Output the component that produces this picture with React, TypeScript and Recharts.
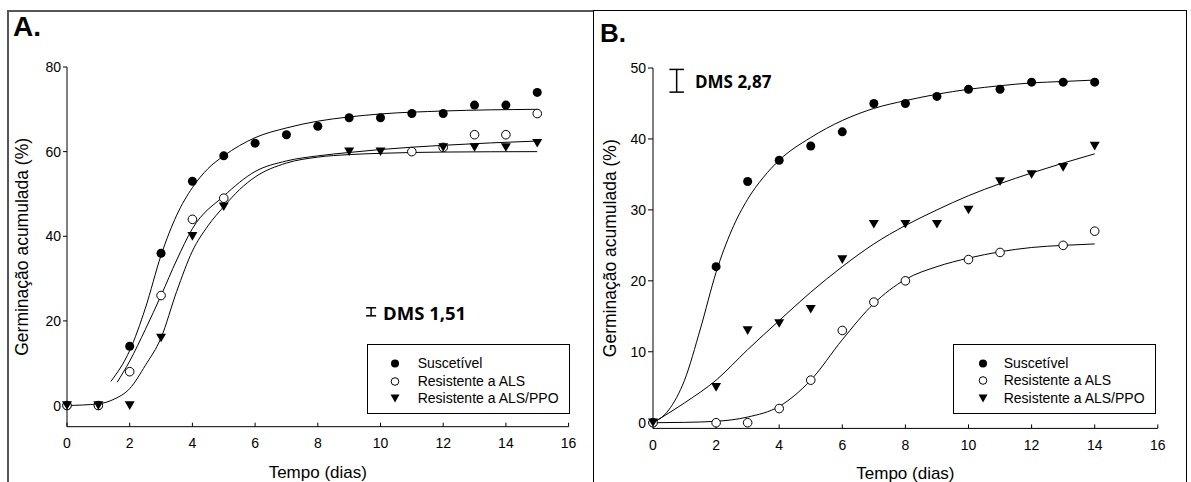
import React from 'react';
import { ComposedChart, Line, Scatter, XAxis, YAxis, ReferenceLine } from 'recharts';

// ---- Painel A: germinação acumulada (%) observada ----
const diasA = [0, 1, 2, 3, 4, 5, 6, 7, 8, 9, 10, 11, 12, 13, 14, 15];
const suscetivelA = [0, 0, 14, 36, 53, 59, 62, 64, 66, 68, 68, 69, 69, 71, 71, 74];
const alsA = [0, 0, 8, 26, 44, 49, null, null, null, null, null, 60, 61, 64, 64, 69];
const alsPpoA = [0, 0, 0, 16, 40, 47, null, null, null, 60, 60, null, 61, 61, 61, 62];

// curvas ajustadas
const curvaDiasSusA = [1.4, 2, 2.5, 3, 3.5, 4, 4.5, 5, 6, 7, 8, 9, 10, 12, 15];
const curvaSusA = [5.7, 13, 23, 35.5, 45, 51.5, 56, 59, 63.3, 65.6, 67.2, 68.2, 68.9, 69.6, 70];
const curvaDiasAlsA = [1.6, 2, 2.5, 3, 3.5, 4, 5, 6, 7, 8, 9, 10, 12, 15];
const curvaAlsA = [5.5, 10.5, 18, 26, 34.4, 41.8, 49.5, 55.3, 57.8, 59, 59.8, 60.5, 61.5, 62.5];
const curvaDiasPpoA = [0, 1, 1.5, 2, 2.5, 3, 3.5, 4, 4.5, 5, 5.5, 6, 7, 8, 9, 10, 12, 15];
const curvaPpoA = [0, 0.4, 1.5, 4, 9.5, 16, 27, 36.5, 42.5, 47, 51, 54, 57.3, 58.7, 59.3, 59.6, 59.9, 60];

// ---- Painel B ----
const diasB = [0, 1, 2, 3, 4, 5, 6, 7, 8, 9, 10, 11, 12, 13, 14];
const suscetivelB = [0, null, 22, 34, 37, 39, 41, 45, 45, 46, 47, 47, 48, 48, 48];
const alsB = [0, null, 0, 0, 2, 6, 13, 17, 20, null, 23, 24, null, 25, 27];
const alsPpoB = [0, null, 5, 13, 14, 16, 23, 28, 28, 28, 30, 34, 35, 36, 39];

const curvaDiasSusB = [0, 0.5, 1, 1.5, 2, 2.5, 3, 3.5, 4, 5, 6, 7, 8, 9, 10, 11, 12, 13, 14];
const curvaSusB = [0, 1.8, 6, 13.2, 21.2, 27.2, 31.5, 34.6, 37, 40.2, 42.6, 44.3, 45.4, 46.3, 47, 47.5, 47.9, 48.1, 48.3];
const curvaDiasAlsB = [0, 1, 2, 3, 4, 5, 6, 7, 8, 9, 10, 11, 12, 13, 14];
const curvaAlsB = [0, 0.05, 0.2, 0.8, 2.3, 6, 11.7, 16.8, 20.2, 22, 23.2, 24.1, 24.7, 25, 25.2];
const curvaDiasPpoB = [0, 1, 2, 3, 4, 5, 6, 7, 8, 9, 10, 11, 12, 13, 14];
const curvaPpoB = [0, 2.8, 6, 10.3, 14.4, 18.4, 22, 25.2, 27.8, 30, 32, 33.7, 35.2, 36.6, 37.9];

const xTicks = [0, 2, 4, 6, 8, 10, 12, 14, 16];
const yTicksA = [0, 20, 40, 60, 80];
const yTicksB = [0, 10, 20, 30, 40, 50];

const legendLabels = ['Suscetível', 'Resistente a ALS', 'Resistente a ALS/PPO'];

const toPoints = (xs: number[], ys: (number | null)[]) =>
  xs.map((x, i) => ({ x, y: ys[i] })).filter((p) => p.y !== null && p.y !== undefined);

const FilledDot = (p: any) => <circle cx={p.cx} cy={p.cy} r={4.5} fill="#000" />;
const OpenDot = (p: any) => <circle cx={p.cx} cy={p.cy} r={4.3} fill="#fff" stroke="#000" strokeWidth={1} />;
const TriDown = (p: any) => (
  <polygon points={`${p.cx - 5},${p.cy - 4.2} ${p.cx + 5},${p.cy - 4.2} ${p.cx},${p.cy + 4.4}`} fill="#000" />
);

const LegendBox = ({ left, top, width, symX }: { left: number; top: number; width: number; symX: number }) => (
  <div
    style={{
      position: 'absolute', left, top, width, height: 70, border: '1px solid #000',
      boxSizing: 'border-box', background: '#fff', fontSize: 14,
    }}
  >
    {legendLabels.map((lab, i) => (
      <div key={lab} style={{ position: 'absolute', left: 0, top: 10 + i * 17.3, height: 17, width: '100%' }}>
        <svg width={20} height={17} style={{ position: 'absolute', left: symX - 10, top: 0 }}>
          {i === 0 && <circle cx={10} cy={8.5} r={4} fill="#000" />}
          {i === 1 && <circle cx={10} cy={8.5} r={3.8} fill="#fff" stroke="#000" />}
          {i === 2 && <polygon points="5.5,4.5 14.5,4.5 10,12.5" fill="#000" />}
        </svg>
        <span style={{ position: 'absolute', left: 50, top: 0, lineHeight: '17px', whiteSpace: 'nowrap' }}>{lab}</span>
      </div>
    ))}
  </div>
);

const axisTick = { fill: '#000', fontSize: 14 };

export default function App() {
  return (
    <div
      style={{
        position: 'absolute', left: 0, top: 0, width: 1191, height: 482, overflow: 'hidden',
        background: '#fff', fontFamily: '"Liberation Sans", Arial, sans-serif', color: '#000',
      }}
    >
      {/* molduras */}
      <div style={{ position: 'absolute', left: 7, top: 10, width: 586, height: 500, borderLeft: '2px solid #555', borderTop: '2px solid #555', boxSizing: 'border-box' }} />
      <div style={{ position: 'absolute', left: 593, top: 10, width: 594, height: 500, border: '1px solid #000', boxSizing: 'border-box' }} />

      <div style={{ position: 'absolute', left: 0, top: 0 }}>
        <ComposedChart width={593} height={482} margin={{ top: 67, right: 24.4, bottom: 0.3, left: 17 }}>
          <XAxis
            type="number" dataKey="x" domain={[0, 16]} ticks={xTicks} interval={0}
            height={55} stroke="#000" tick={axisTick} tickSize={-4} tickMargin={15}
            label={{ value: 'Tempo (dias)', position: 'insideBottom', offset: 3.5, fill: '#000', fontSize: 17 }}
          />
          <YAxis
            type="number" domain={[-5, 80]} ticks={yTicksA} interval={0} width={50}
            stroke="#000" tick={axisTick} tickSize={4} tickMargin={2}
            label={{ value: 'Germinação acumulada (%)', angle: -90, position: 'insideLeft', offset: 4.5, fill: '#000', fontSize: 17.5, style: { textAnchor: 'middle' } }}
          />
          <Line data={toPoints(curvaDiasSusA, curvaSusA)} dataKey="y" type="monotone" stroke="#000" strokeWidth={1} dot={false} isAnimationActive={false} />
          <Line data={toPoints(curvaDiasAlsA, curvaAlsA)} dataKey="y" type="monotone" stroke="#000" strokeWidth={1} dot={false} isAnimationActive={false} />
          <Line data={toPoints(curvaDiasPpoA, curvaPpoA)} dataKey="y" type="monotone" stroke="#000" strokeWidth={1} dot={false} isAnimationActive={false} />
          <Scatter data={toPoints(diasA, suscetivelA)} dataKey="y" shape={FilledDot} isAnimationActive={false} />
          <Scatter data={toPoints(diasA, alsA)} dataKey="y" shape={OpenDot} isAnimationActive={false} />
          <Scatter data={toPoints(diasA, alsPpoA)} dataKey="y" shape={TriDown} isAnimationActive={false} />
          <ReferenceLine segment={[{ x: 9.7, y: 21.2 }, { x: 9.7, y: 23.1 }]} stroke="#000" strokeWidth={1.5} ifOverflow="visible" />
          <ReferenceLine segment={[{ x: 9.54, y: 23.1 }, { x: 9.86, y: 23.1 }]} stroke="#000" strokeWidth={1.5} ifOverflow="visible" />
          <ReferenceLine segment={[{ x: 9.54, y: 21.2 }, { x: 9.86, y: 21.2 }]} stroke="#000" strokeWidth={1.5} ifOverflow="visible" />
        </ComposedChart>
      </div>

      <div style={{ position: 'absolute', left: 593, top: 0 }}>
        <ComposedChart width={598} height={482} margin={{ top: 68, right: 33.2, bottom: 0, left: 10 }}>
          <XAxis
            type="number" dataKey="x" domain={[0, 16]} ticks={xTicks} interval={0}
            height={53.6} stroke="#000" tick={axisTick} tickSize={-4} tickMargin={15.6}
            label={{ value: 'Tempo (dias)', position: 'insideBottom', offset: 3.5, fill: '#000', fontSize: 17 }}
          />
          <YAxis
            type="number" domain={[-0.8, 50]} ticks={yTicksB} interval={0} width={50}
            stroke="#000" tick={axisTick} tickSize={5} tickMargin={2}
            label={{ value: 'Germinação acumulada (%)', angle: -90, position: 'insideLeft', offset: 6.3, fill: '#000', fontSize: 17.5, style: { textAnchor: 'middle' } }}
          />
          <Line data={toPoints(curvaDiasSusB, curvaSusB)} dataKey="y" type="monotone" stroke="#000" strokeWidth={1} dot={false} isAnimationActive={false} />
          <Line data={toPoints(curvaDiasAlsB, curvaAlsB)} dataKey="y" type="monotone" stroke="#000" strokeWidth={1} dot={false} isAnimationActive={false} />
          <Line data={toPoints(curvaDiasPpoB, curvaPpoB)} dataKey="y" type="monotone" stroke="#000" strokeWidth={1} dot={false} isAnimationActive={false} />
          <Scatter data={toPoints(diasB, suscetivelB)} dataKey="y" shape={FilledDot} isAnimationActive={false} />
          <Scatter data={toPoints(diasB, alsB)} dataKey="y" shape={OpenDot} isAnimationActive={false} />
          <Scatter data={toPoints(diasB, alsPpoB)} dataKey="y" shape={TriDown} isAnimationActive={false} />
          <ReferenceLine segment={[{ x: 0.75, y: 46.6 }, { x: 0.75, y: 49.8 }]} stroke="#000" strokeWidth={1.5} ifOverflow="visible" />
          <ReferenceLine segment={[{ x: 0.52, y: 49.8 }, { x: 0.98, y: 49.8 }]} stroke="#000" strokeWidth={1.5} ifOverflow="visible" />
          <ReferenceLine segment={[{ x: 0.52, y: 46.6 }, { x: 0.98, y: 46.6 }]} stroke="#000" strokeWidth={1.5} ifOverflow="visible" />
        </ComposedChart>
      </div>

      {/* rótulos dos painéis */}
      <div style={{ position: 'absolute', left: 13, top: 13.3, fontSize: 28, fontWeight: 700, lineHeight: 1 }}>A.</div>
      <div style={{ position: 'absolute', left: 600, top: 19.7, fontSize: 26, fontWeight: 700, lineHeight: 1 }}>B.</div>

      {/* DMS */}
      <div style={{ position: 'absolute', left: 383, top: 304, fontSize: 18.5, fontWeight: 700, lineHeight: 1, fontFamily: '"Open Sans", sans-serif', whiteSpace: 'nowrap' }}>DMS 1,51</div>
      <div style={{ position: 'absolute', left: 695, top: 73, fontSize: 17, fontWeight: 700, lineHeight: 1, fontFamily: '"Open Sans", sans-serif', whiteSpace: 'nowrap' }}>DMS 2,87</div>

      <LegendBox left={366.7} top={344.3} width={203} symX={27} />
      <LegendBox left={952.7} top={344} width={203.5} symX={29} />
    </div>
  );
}
